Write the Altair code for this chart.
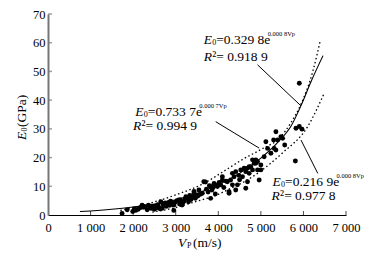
import altair as alt
import pandas as pd

# ---- measured data (Vp in m/s, E0 in GPa) ----
pt_vp = [1740, 1860, 1990, 2030, 2060, 2120, 2180, 2210, 2250, 2290, 2330, 2360, 2400, 2440, 2470, 2500,
         2520, 2550, 2580, 2600, 2630, 2650, 2680, 2700, 2720, 2750, 2780, 2800, 2830, 2860, 2880, 2900, 2930, 2955, 2960, 2990,
         3030, 3070, 3090, 3110, 3150, 3170, 3190, 3220, 3240, 3270, 3300, 3330, 3360, 3400, 3430, 3430, 3460, 3490,
         3520, 3545, 3580, 3625, 3660, 3700, 3720, 3760, 3790, 3820, 3820, 3850, 3880, 3900, 3930, 3960, 3980,
         4020, 4057, 4096, 4096, 4130, 4180, 4214, 4253, 4253, 4290, 4332, 4332, 4371, 4410, 4410, 4450, 4480, 4500,
         4528, 4568, 4607, 4646, 4646, 4686, 4686, 4725, 4725, 4764, 4804, 4804, 4843, 4882, 4882, 4922, 4922, 4960, 5000, 5000,
         5078, 5118, 5158, 5236, 5300, 5314, 5354, 5354, 5394, 5472, 5511, 5560,
         5810, 5825, 5903, 5967, 5903]
pt_e = [0.5, 1.8, 1.2, 2.2, 1.6, 2.0, 2.6, 3.4, 2.7, 2.9, 1.8, 3.4, 2.4, 2.3, 3.0, 2.0,
        3.1, 2.5, 3.6, 2.7, 2.2, 4.6, 2.3, 3.8, 3.2, 4.2, 3.0, 3.9, 4.4, 3.4, 4.8, 4.0, 3.6, 1.6, 3.5, 4.5,
        5.0, 5.2, 3.8, 5.3, 3.5, 4.4, 4.7, 5.6, 6.4, 5.9, 4.6, 6.8, 5.4, 6.2, 7.6, 8.2, 5.8, 7.0,
        6.6, 8.7, 7.2, 7.6, 11.6, 11.5, 9.0, 8.0, 10.2, 9.9, 5.8, 8.7, 9.6, 11.0, 7.3, 10.4, 9.9,
        11.3, 10.5, 12.2, 13.3, 9.6, 11.8, 11.6, 8.1, 7.6, 12.2, 14.5, 10.5, 13.3, 15.1, 8.7, 10.5, 13.8, 12.3,
        15.7, 13.3, 16.3, 15.1, 9.3, 16.3, 11.6, 16.8, 14.5, 16.8, 15.7, 19.2, 18.0, 19.2, 18.0, 18.6, 15.7, 12.2, 17.4, 15.7,
        20.3, 25.5, 23.2, 21.5, 26.1, 23.2, 22.6, 29.0, 26.1, 27.3, 26.7, 24.4,
        18.8, 30.2, 30.8, 29.9, 45.9]

# fitted curve E0 = 0.7337 e^(0.0007 Vp) (solid)
fit_vp = [750, 1000, 1500, 2000, 2500, 3000, 3500, 4000, 4500, 5000, 5430, 5710, 5940, 6180, 6460]
fit_e = [1.2, 1.4, 2.0, 2.8, 3.8, 5.3, 7.5, 10.5, 14.5, 19.8, 25.8, 31.0, 38.0, 46.5, 55.5]
# upper bound E0 = 0.3298 e^(0.0008 Vp) (dotted)
up_vp = [1700, 2200, 2640, 3000, 3660, 4210, 4600, 5000, 5470, 5700, 5940, 6220, 6400]
up_e = [1.6, 3.3, 5.2, 7.0, 11.0, 16.0, 19.6, 22.8, 27.3, 32.0, 38.5, 50.0, 61.0]
# lower bound E0 = 0.2169 e^(0.0008 Vp) (dotted)
lo_vp = [2450, 3000, 3430, 4000, 4210, 4600, 4920, 5500, 6100, 6490]
lo_e = [1.0, 2.6, 4.5, 7.2, 8.7, 11.5, 14.5, 21.5, 30.8, 42.5]

# annotation texts and anchors
eq_text = ["=0.329 8e", "=0.733 7e", "=0.216 9e"]
sup_text = ["0.000 8Vp", "0.000 7Vp", "0.000 8Vp"]
r2_text = ["\u00b2= 0.918 9", "\u00b2= 0.994 9", "\u00b2= 0.977 8"]
eq_vp = [3656, 2052, 5276]
eq_e = [61.0, 36.0, 11.6]
r_vp = [3656, 1998, 5252]
r_e = [55.1, 31.1, 6.7]
# leader lines
ld_vp = [4922, 3939, 5943]
ld_e = [52.3, 32.5, 26.1]
ld_vp2 = [5943, 4960, 6337]
ld_e2 = [38.0, 23.3, 14.5]

x_ticks = [1000, 2000, 3000, 4000, 5000, 6000, 7000]
y_ticks = [10, 20, 30, 40, 50, 60, 70]

FONT = "Liberation Serif"
W, H = 298, 201

xs = alt.Scale(domain=[0, 7000], nice=False, zero=True)
ys = alt.Scale(domain=[0, 70], nice=False, zero=True)

xaxis = alt.Axis(values=[0] + x_ticks, title=None, grid=False, ticks=False, labelOverlap=False, labelFlush=False,
                 labelExpr="replace(format(datum.value, ','), ',', ' ')",
                 labelFont=FONT, labelFontSize=12.5, labelColor="black", labelPadding=6,
                 domainColor="black", domainWidth=1)
yaxis = alt.Axis(values=[0] + y_ticks, title=None, grid=False, ticks=False, labelOverlap=False, labelFlush=False,
                 labelFont=FONT, labelFontSize=12.5, labelColor="black", labelPadding=3,
                 domainColor="#777777", domainWidth=2)

pts = pd.DataFrame({"vp": pt_vp, "e": pt_e})
fit = pd.DataFrame({"vp": fit_vp, "e": fit_e})
up = pd.DataFrame({"vp": up_vp, "e": up_e})
lo = pd.DataFrame({"vp": lo_vp, "e": lo_e})
ann = pd.DataFrame({"vp": eq_vp, "e": eq_e, "t": eq_text, "s": sup_text,
                    "rvp": r_vp, "re": r_e, "r": r2_text})
lead = pd.DataFrame({"vp": ld_vp, "e": ld_e, "vp2": ld_vp2, "e2": ld_e2})
xt = pd.DataFrame({"vp": x_ticks, "e": [0] * len(x_ticks)})
yt = pd.DataFrame({"e": y_ticks, "vp": [0] * len(y_ticks)})

X = alt.X("vp:Q", scale=xs, axis=xaxis)
Y = alt.Y("e:Q", scale=ys, axis=yaxis)

scatter = alt.Chart(pts).mark_circle(size=24, color="black", opacity=1).encode(x=X, y=Y)
fit_line = alt.Chart(fit).mark_line(color="black", strokeWidth=1.1, interpolate="monotone").encode(x=X, y=Y)
up_line = alt.Chart(up).mark_line(color="black", strokeWidth=1.3, strokeDash=[1.5, 2.5], interpolate="monotone").encode(x=X, y=Y)
lo_line = alt.Chart(lo).mark_line(color="black", strokeWidth=1.3, strokeDash=[1.5, 2.5], interpolate="monotone").encode(x=X, y=Y)
leaders = alt.Chart(lead).mark_rule(color="black", strokeWidth=1).encode(x=X, y=Y, x2="vp2:Q", y2="e2:Q")

# inward ticks, drawn as small tick marks sitting on the axes
xtick_marks = alt.Chart(xt).mark_tick(color="black", thickness=1, size=4, orient="vertical", yOffset=-2).encode(x=X, y=Y)
ytick_marks = alt.Chart(yt).mark_tick(color="#777777", thickness=1.5, size=4, orient="horizontal", xOffset=2).encode(x=X, y=Y)

FS = 13.5

def txt(df, xf, yf, field, dx=0, dy=0, size=FS, style="normal"):
    return alt.Chart(df).mark_text(font=FONT, fontSize=size, fontStyle=style, align="left",
                                   baseline="middle", dx=dx, dy=dy, color="black").encode(
        x=alt.X(xf + ":Q", scale=xs, axis=xaxis), y=alt.Y(yf + ":Q", scale=ys, axis=yaxis), text=field + ":N")

def const(df, xf, yf, s, dx=0, dy=0, size=FS, style="normal"):
    return alt.Chart(df).mark_text(text=s, font=FONT, fontSize=size, fontStyle=style, align="left",
                                   baseline="middle", dx=dx, dy=dy, color="black").encode(
        x=alt.X(xf + ":Q", scale=xs, axis=xaxis), y=alt.Y(yf + ":Q", scale=ys, axis=yaxis))

eq_E = const(ann, "vp", "e", "E", style="italic")
eq_0 = const(ann, "vp", "e", "0", dx=8.5, dy=3, size=8)
eq_t = txt(ann, "vp", "e", "t", dx=12.5)
eq_s = txt(ann, "vp", "e", "s", dx=64, dy=-6, size=6.5)
r_R = const(ann, "rvp", "re", "R", style="italic")
r_t = txt(ann, "rvp", "re", "r", dx=8.5)

# axis titles (mixed italic / subscript), placed in pixels relative to the plot
one = pd.DataFrame({"k": [0]})
def lab(text, x, y, size=13.5, style="normal", angle=0):
    return alt.Chart(one).mark_text(text=text, font=FONT, fontSize=size, fontStyle=style, angle=angle,
                                    align="left", baseline="middle", color="black").encode(
        x=alt.value(x), y=alt.value(y))

xt_V = lab("V", 130, 229, style="italic")
xt_P = lab("P", 139, 232, size=8)
xt_r = lab("(m/s)", 145, 229)
yt_E = lab("E", -26, 126, style="italic", angle=270)
yt_0 = lab("0", -23, 117.5, size=8, angle=270)
yt_r = lab("(GPa)", -26, 113, angle=270)

chart = alt.layer(
    scatter, fit_line, up_line, lo_line, leaders, xtick_marks, ytick_marks,
    eq_E, eq_0, eq_t, eq_s, r_R, r_t,
    xt_V, xt_P, xt_r, yt_E, yt_0, yt_r,
).properties(
    width=W, height=H,
    autosize=alt.AutoSizeParams(type="none"),
    padding={"left": 40, "top": 6, "right": 21, "bottom": 40},
    background="white",
).configure_view(stroke=None).configure_axis(
    labelOverlap=False, labelFlush=False, labelBound=False, labelFont=FONT
)

chart.save("out.html", embed_options={"renderer": "svg", "actions": False})
